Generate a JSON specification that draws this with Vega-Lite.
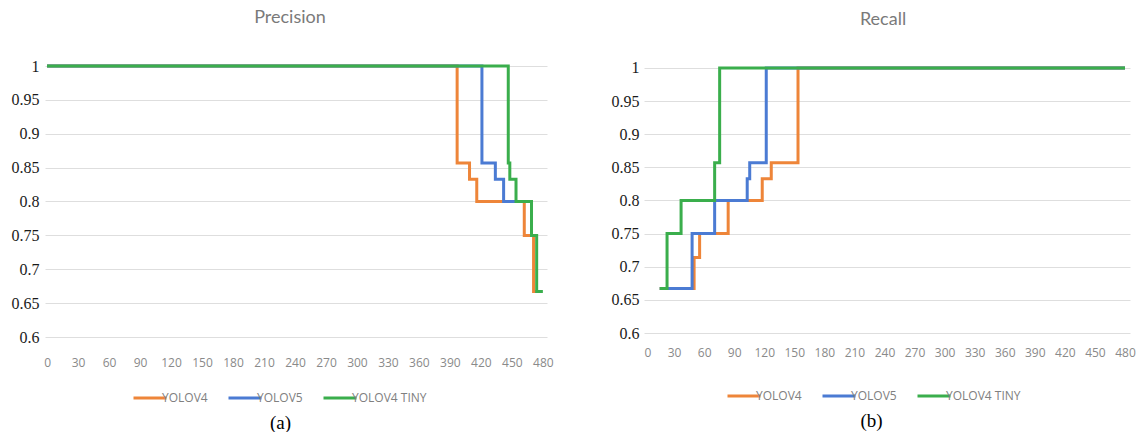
{
  "$schema": "https://vega.github.io/schema/vega-lite/v6.json",
  "background": "white",
  "padding": {"left": 11, "top": 9, "right": 5, "bottom": 0},
  "config": {
    "view": {"stroke": null},
    "concat": {"spacing": 57},
    "title": {"font": "Lato", "fontSize": 18, "fontWeight": "normal", "color": "#7a7a7a"},
    "legend": {"orient": "none", "direction": "horizontal", "title": null, "symbolType": "stroke", "symbolSize": 1089, "symbolStrokeWidth": 3, "labelFont": "Open Sans", "labelFontSize": 12, "labelColor": "#808080", "labelOffset": -6, "columnPadding": 14}
  },
  "datasets": {
    "precision": [
      {"model": "YOLOV4", "t": 0, "v": 1},
      {"model": "YOLOV4", "t": 397, "v": 0.857},
      {"model": "YOLOV4", "t": 409, "v": 0.833},
      {"model": "YOLOV4", "t": 416, "v": 0.8},
      {"model": "YOLOV4", "t": 462, "v": 0.75},
      {"model": "YOLOV4", "t": 471, "v": 0.667},
      {"model": "YOLOV4", "t": 474, "v": 0.667},
      {"model": "YOLOV5", "t": 0, "v": 1},
      {"model": "YOLOV5", "t": 421, "v": 0.857},
      {"model": "YOLOV5", "t": 434, "v": 0.833},
      {"model": "YOLOV5", "t": 442, "v": 0.8},
      {"model": "YOLOV5", "t": 455, "v": 0.8},
      {"model": "YOLOV4 TINY", "t": 0, "v": 1},
      {"model": "YOLOV4 TINY", "t": 446.5, "v": 0.857},
      {"model": "YOLOV4 TINY", "t": 448, "v": 0.833},
      {"model": "YOLOV4 TINY", "t": 454, "v": 0.8},
      {"model": "YOLOV4 TINY", "t": 469, "v": 0.75},
      {"model": "YOLOV4 TINY", "t": 474, "v": 0.667},
      {"model": "YOLOV4 TINY", "t": 480, "v": 0.667}
    ],
    "recall": [
      {"model": "YOLOV4", "t": 15.7, "v": 0.667},
      {"model": "YOLOV4", "t": 50, "v": 0.714},
      {"model": "YOLOV4", "t": 55.5, "v": 0.75},
      {"model": "YOLOV4", "t": 84, "v": 0.8},
      {"model": "YOLOV4", "t": 118, "v": 0.833},
      {"model": "YOLOV4", "t": 127, "v": 0.857},
      {"model": "YOLOV4", "t": 153.7, "v": 1},
      {"model": "YOLOV4", "t": 480, "v": 1},
      {"model": "YOLOV5", "t": 15.7, "v": 0.667},
      {"model": "YOLOV5", "t": 48, "v": 0.75},
      {"model": "YOLOV5", "t": 70.5, "v": 0.8},
      {"model": "YOLOV5", "t": 103, "v": 0.833},
      {"model": "YOLOV5", "t": 105.5, "v": 0.857},
      {"model": "YOLOV5", "t": 122, "v": 1},
      {"model": "YOLOV5", "t": 480, "v": 1},
      {"model": "YOLOV4 TINY", "t": 15.7, "v": 0.667},
      {"model": "YOLOV4 TINY", "t": 23, "v": 0.75},
      {"model": "YOLOV4 TINY", "t": 37, "v": 0.8},
      {"model": "YOLOV4 TINY", "t": 70.5, "v": 0.857},
      {"model": "YOLOV4 TINY", "t": 75.5, "v": 1},
      {"model": "YOLOV4 TINY", "t": 480, "v": 1}
    ]
  },
  "hconcat": [
    {
      "width": 502,
      "height": 271,
      "title": {"text": "Precision", "dx": -6, "offset": 31},
      "data": {"name": "precision"},
      "encoding": {
        "x": {"field": "t", "type": "quantitative", "scale": {"domain": [-2, 484], "nice": false, "zero": false},
          "axis": {"values": [0, 30, 60, 90, 120, 150, 180, 210, 240, 270, 300, 330, 360, 390, 420, 450, 480], "labelFont": "Open Sans", "labelFontSize": 12, "labelColor": "#8a8a8a", "grid": false, "domain": false, "ticks": false, "labelPadding": 20, "title": "(a)", "titleFont": "Liberation Serif", "titleFontSize": 19, "titleFontWeight": "normal", "titleColor": "#000000", "titlePadding": 45, "titleX": 235}},
        "y": {"field": "v", "type": "quantitative", "scale": {"domain": [0.6, 1], "nice": false, "zero": false},
          "axis": {"values": [0.6, 0.65, 0.7, 0.75, 0.8, 0.85, 0.9, 0.95, 1], "format": ".2~f", "title": null, "grid": true, "gridColor": "#dedede", "domain": false, "ticks": false, "labelPadding": 6, "labelFont": "Liberation Serif", "labelFontSize": 16, "labelColor": "#1a1a1a"}},
        "color": {"field": "model", "type": "nominal",
          "scale": {"domain": ["YOLOV4", "YOLOV5", "YOLOV4 TINY"], "range": ["#EE8539", "#4B7BD3", "#3AAE4C"]},
          "legend": {"legendX": 87, "legendY": 314}}
      },
      "layer": [
        {"transform": [{"filter": "datum.model == 'YOLOV4'"}], "mark": {"type": "line", "interpolate": "step-after", "strokeWidth": 3}},
        {"transform": [{"filter": "datum.model == 'YOLOV5'"}], "mark": {"type": "line", "interpolate": "step-after", "strokeWidth": 3}},
        {"transform": [{"filter": "datum.model == 'YOLOV4 TINY'"}], "mark": {"type": "line", "interpolate": "step-after", "strokeWidth": 3}}
      ]
    },
    {
      "width": 486,
      "height": 267,
      "title": {"text": "Recall", "dx": -4, "offset": 31},
      "data": {"name": "recall"},
      "encoding": {
        "x": {"field": "t", "type": "quantitative", "scale": {"domain": [0, 485], "nice": false, "zero": false},
          "axis": {"values": [0, 30, 60, 90, 120, 150, 180, 210, 240, 270, 300, 330, 360, 390, 420, 450, 480], "labelFont": "Open Sans", "labelFontSize": 12, "labelColor": "#8a8a8a", "grid": false, "domain": false, "ticks": false, "labelPadding": 14, "title": "(b)", "titleFont": "Liberation Serif", "titleFontSize": 19, "titleFontWeight": "normal", "titleColor": "#000000", "titlePadding": 53, "titleX": 227}},
        "y": {"field": "v", "type": "quantitative", "scale": {"domain": [0.6, 1.003], "nice": false, "zero": false},
          "axis": {"values": [0.6, 0.65, 0.7, 0.75, 0.8, 0.85, 0.9, 0.95, 1], "format": ".2~f", "title": null, "grid": true, "gridColor": "#dedede", "domain": false, "ticks": false, "labelPadding": 5, "labelFont": "Liberation Serif", "labelFontSize": 16, "labelColor": "#1a1a1a"}},
        "color": {"field": "model", "type": "nominal",
          "scale": {"domain": ["YOLOV4", "YOLOV5", "YOLOV4 TINY"], "range": ["#EE8539", "#4B7BD3", "#3AAE4C"]},
          "legend": {"legendX": 82, "legendY": 312}}
      },
      "layer": [
        {"transform": [{"filter": "datum.model == 'YOLOV4'"}], "mark": {"type": "line", "interpolate": "step-after", "strokeWidth": 3}},
        {"transform": [{"filter": "datum.model == 'YOLOV5'"}], "mark": {"type": "line", "interpolate": "step-after", "strokeWidth": 3}},
        {"transform": [{"filter": "datum.model == 'YOLOV4 TINY'"}], "mark": {"type": "line", "interpolate": "step-after", "strokeWidth": 3}}
      ]
    }
  ],
  "resolve": {"scale": {"color": "independent"}}
}
